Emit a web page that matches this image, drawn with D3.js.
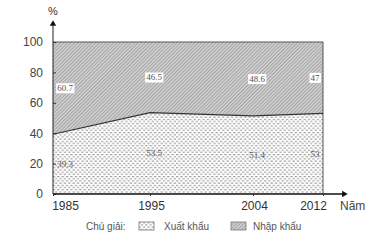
<!DOCTYPE html>
<html>
<head>
<meta charset="utf-8">
<script src="https://cdn.jsdelivr.net/npm/d3@7"></script>
<style>
  body { margin: 0; background: #fff; }
  svg { display: block; }
</style>
</head>
<body>
<svg id="chart" width="375" height="248"></svg>
<script>
// data
let years = [1985, 1995, 2004, 2012];
let xuatKhau = [39.3, 53.5, 51.4, 53];
let nhapKhau = [60.7, 46.5, 48.6, 47];
let yTicks = [0, 20, 40, 60, 80, 100];

let svg = d3.select("#chart");
let defs = svg.append("defs");

// hatch for import
let hatch = defs.append("pattern")
                .attr("id", "hatch")
                .attr("patternUnits", "userSpaceOnUse")
                .attr("width", 2.5)
                .attr("height", 2.5)
                .attr("patternTransform", "rotate(45)");
hatch.append("rect").attr("width", 2.5).attr("height", 2.5).attr("fill", "#cdcdcd");
hatch.append("line").attr("x1", 0).attr("y1", 0).attr("x2", 0).attr("y2", 2.5)
     .attr("stroke", "#858585").attr("stroke-width", 1);

// dashes for export
let dots = defs.append("pattern")
               .attr("id", "dots")
               .attr("patternUnits", "userSpaceOnUse")
               .attr("width", 4.4)
               .attr("height", 4.4);
dots.append("rect").attr("width", 4.4).attr("height", 4.4).attr("fill", "#fff");
dots.append("rect").attr("x", 0).attr("y", 0).attr("width", 2.2).attr("height", 1.1).attr("fill", "#999");
dots.append("rect").attr("x", 2.2).attr("y", 2.2).attr("width", 2.2).attr("height", 1.1).attr("fill", "#999");

// the years are not evenly spaced in the picture, so a piecewise scale
let x = d3.scaleLinear()
          .domain(years)
          .range([53, 150, 253, 323]);
let y = d3.scaleLinear()
          .domain([0, 100])
          .range([194, 42]);

let rows = years.map((yr, i) => ({ year: yr, xk: xuatKhau[i], nk: nhapKhau[i] }));

let areaXK = d3.area()
               .x(d => x(d.year))
               .y0(y(0))
               .y1(d => y(d.xk));
let areaNK = d3.area()
               .x(d => x(d.year))
               .y0(d => y(d.xk))
               .y1(y(100));

svg.append("path").datum(rows).attr("d", areaNK).attr("fill", "url(#hatch)");
svg.append("path").datum(rows).attr("d", areaXK).attr("fill", "url(#dots)");

// boundary between the two parts
svg.append("path").datum(rows)
   .attr("d", d3.line().x(d => x(d.year)).y(d => y(d.xk)))
   .attr("fill", "none")
   .attr("stroke", "#333")
   .attr("stroke-width", 1.2);

// frame: top and right
svg.append("line").attr("x1", x(1985)).attr("x2", x(2012)).attr("y1", y(100)).attr("y2", y(100))
   .attr("stroke", "#555").attr("stroke-width", 1);
svg.append("line").attr("x1", x(2012)).attr("x2", x(2012)).attr("y1", y(100)).attr("y2", y(0))
   .attr("stroke", "#555").attr("stroke-width", 1);

// y axis with arrow
svg.append("line").attr("x1", x(1985)).attr("x2", x(1985)).attr("y1", y(0)).attr("y2", 24)
   .attr("stroke", "#222").attr("stroke-width", 1);
svg.append("path").attr("d", d3.symbol().type(d3.symbolTriangle).size(18)())
   .attr("transform", `translate(${x(1985)},24)`).attr("fill", "#111");
svg.append("text").attr("x", x(1985)).attr("y", 15).attr("text-anchor", "middle")
   .attr("font-family", "Liberation Sans, Arial, sans-serif").attr("font-size", 11)
   .attr("fill", "#333").text("%");

let yAxis = svg.append("g").attr("transform", `translate(${x(1985)},0)`)
               .call(d3.axisLeft(y).tickValues(yTicks).tickSize(-3).tickPadding(10));
yAxis.select(".domain").remove();
yAxis.selectAll("line").attr("stroke", "#333");
yAxis.selectAll("text").attr("font-family", "Liberation Sans, Arial, sans-serif")
     .attr("font-size", 12).attr("fill", "#444");

// x axis with arrow
svg.append("line").attr("x1", x(1985)).attr("x2", 343).attr("y1", y(0)).attr("y2", y(0))
   .attr("stroke", "#111").attr("stroke-width", 1.3);
svg.append("path").attr("d", d3.symbol().type(d3.symbolTriangle).size(18)())
   .attr("transform", `translate(344,${y(0)}) rotate(90)`).attr("fill", "#111");

let xAxis = svg.append("g").attr("transform", `translate(0,${y(0)})`)
               .call(d3.axisBottom(x).tickValues(years).tickFormat(d3.format("d")).tickSize(2).tickPadding(5));
xAxis.select(".domain").remove();
xAxis.selectAll("line").attr("stroke", "#333");
xAxis.selectAll("text").attr("font-family", "Liberation Sans, Arial, sans-serif")
     .attr("font-size", 12).attr("fill", "#333")
     .attr("dx", (d, i) => i === 0 ? 12 : (i === years.length - 1 ? -10 : 1));
svg.append("text").attr("x", 340).attr("y", 210)
   .attr("font-family", "Liberation Sans, Arial, sans-serif").attr("font-size", 12)
   .attr("fill", "#444").text("Năm");

// value labels at the middle of each band
function labelX(i) {
    if (i === 0) return x(years[i]) + 12;
    if (i === years.length - 1) return x(years[i]) - 8;
    return x(years[i]) + 4;
}
function addLabels(vals, mid, boxed) {
    let g = svg.append("g");
    vals.forEach((v, i) => {
        let t = g.append("text")
                 .attr("x", labelX(i))
                 .attr("y", y(mid(i)))
                 .attr("dy", "0.35em")
                 .attr("text-anchor", "middle")
                 .attr("font-family", "Liberation Serif, Times New Roman, serif")
                 .attr("font-size", 9)
                 .attr("fill", "#555")
                 .text(v);
        if (boxed) {
            let b = t.node().getBBox();
            g.insert("rect", () => t.node())
             .attr("x", b.x - 1).attr("y", b.y)
             .attr("width", b.width + 2).attr("height", b.height)
             .attr("fill", "#fff");
        }
    });
}
addLabels(nhapKhau, i => xuatKhau[i] + nhapKhau[i] / 2, true);
addLabels(xuatKhau, i => xuatKhau[i] / 2, false);

// legend
let lg = svg.append("g").attr("font-family", "Liberation Sans, Arial, sans-serif")
            .attr("font-size", 10).attr("fill", "#555");
lg.append("text").attr("x", 86).attr("y", 230).text("Chú giải:");
lg.append("rect").attr("x", 139).attr("y", 222).attr("width", 15).attr("height", 8)
  .attr("fill", "url(#dots)").attr("stroke", "#777").attr("stroke-width", 0.8);
lg.append("text").attr("x", 164).attr("y", 230).text("Xuất khẩu");
lg.append("rect").attr("x", 231).attr("y", 222).attr("width", 15).attr("height", 8)
  .attr("fill", "url(#hatch)").attr("stroke", "#777").attr("stroke-width", 0.8);
lg.append("text").attr("x", 253).attr("y", 230).text("Nhập khẩu");
</script>
</body>
</html>
